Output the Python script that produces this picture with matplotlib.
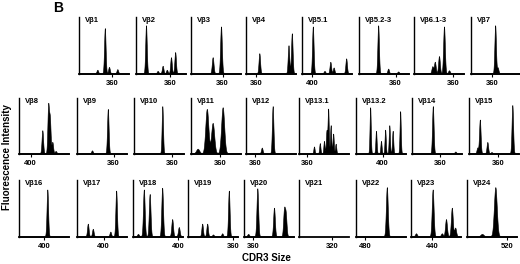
import numpy as np
import matplotlib
matplotlib.use("Agg")
import matplotlib.pyplot as plt

plt.rcParams['font.family'] = ['Liberation Sans', 'DejaVu Sans']
plt.rcParams['font.weight'] = 'bold'

# panel names, x-axis start (CDR3 size), tick value
names = ['Vβ1', 'Vβ2', 'Vβ3', 'Vβ4', 'Vβ5.1', 'Vβ5.2-3', 'Vβ6.1-3', 'Vβ7',
         'Vβ8', 'Vβ9', 'Vβ10', 'Vβ11', 'Vβ12', 'Vβ13.1', 'Vβ13.2', 'Vβ14', 'Vβ15',
         'Vβ16', 'Vβ17', 'Vβ18', 'Vβ19', 'Vβ20', 'Vβ21', 'Vβ22', 'Vβ23', 'Vβ24']
xstart = [320, 319, 322, 348, 388, 316, 313, 335,
          386, 316, 314, 325, 349, 350, 368, 326, 325,
          370, 368, 346, 306, 349, 280, 469, 415, 472]
ticks = [360, 360, 360, 360, 400, 360, 360, 360,
         400, 360, 360, 360, 360, 360, 400, 360, 360,
         400, 400, 400, 360, 360, 320, 480, 440, 520]

# peak positions (CDR3 size) and relative fluorescence heights
peak_pos = [
    [342, 351, 356, 366],
    [331, 345, 351, 356, 361, 366],
    [348, 358],
    [364, 399, 403],
    [401, 415, 422, 426, 441],
    [339, 351, 363],
    [335, 338, 343, 349, 355],
    [364, 367],
    [414, 421, 423, 426, 430],
    [334, 353],
    [348],
    [333, 344, 351, 363],
    [368, 381],
    [368, 375, 380, 383, 385, 388, 391, 394],
    [385, 392, 398, 403, 408, 412, 421],
    [351, 378],
    [335, 338, 347, 352, 377],
    [404],
    [381, 387, 408, 415],
    [352, 359, 366, 381, 393, 401],
    [323, 329, 336, 347, 355],
    [354, 365, 385, 397, 399],
    [],
    [506],
    [421, 441, 452, 457, 464, 468],
    [490, 506],
]
peak_h = [
    [0.06, 0.79, 0.11, 0.07],
    [0.84, 0.04, 0.13, 0.06, 0.28, 0.37],
    [0.28, 0.82],
    [0.35, 0.49, 0.70],
    [0.82, 0.04, 0.20, 0.10, 0.26],
    [0.84, 0.08, 0.03],
    [0.12, 0.20, 0.30, 0.82, 0.05],
    [0.84, 0.10],
    [0.41, 0.84, 0.60, 0.20, 0.04],
    [0.05, 0.79],
    [0.84],
    [0.08, 0.79, 0.54, 0.82],
    [0.10, 0.84],
    [0.12, 0.18, 0.22, 0.40, 0.79, 0.50, 0.35, 0.17],
    [0.82, 0.40, 0.22, 0.42, 0.50, 0.40, 0.75],
    [0.84, 0.03],
    [0.10, 0.60, 0.20, 0.02, 0.86],
    [0.82],
    [0.22, 0.13, 0.08, 0.80],
    [0.04, 0.82, 0.74, 0.85, 0.30, 0.16],
    [0.22, 0.22, 0.03, 0.05, 0.80],
    [0.04, 0.84, 0.50, 0.45, 0.38],
    [],
    [0.86],
    [0.05, 0.82, 0.05, 0.30, 0.50, 0.15],
    [0.04, 0.86],
]
peak_w = [0.9, 0.9, 1.0, 0.9, 0.9, 0.9, 1.0, 0.9,
          0.9, 0.9, 0.8, 1.8, 0.9, 0.7, 0.7, 0.9, 0.9,
          0.9, 0.9, 1.0, 0.9, 1.0, 0.9, 1.1, 1.1, 1.7]

# panel layout in pixels: left edge, axis top, baseline
lefts = [79, 136, 191, 246, 302, 359, 414, 471,
         19, 77, 134, 191, 246, 299, 356, 412, 469,
         19, 77, 133, 188, 244, 299, 356, 411, 467]
rows = [(17, 74)] * 8 + [(98, 154)] * 9 + [(180, 237)] * 9
W, H = 520, 264
pw = 50
span = 60

fig = plt.figure(figsize=(W / 100, H / 100), dpi=100)

for i, name in enumerate(names):
    top, base = rows[i]
    ax = fig.add_axes([lefts[i] / W, 1 - base / H, pw / W, (base - top) / H])
    lo = xstart[i]
    x = np.linspace(lo, lo + span, 800)
    y = np.full_like(x, 0.015)
    for p, h in zip(peak_pos[i], peak_h[i]):
        y += h * np.exp(-0.5 * ((x - p) / peak_w[i]) ** 2)
    if peak_pos[i]:
        ax.fill_between(x, 0, y, color='black', lw=0.4)
    ax.set_xlim(lo, lo + span)
    ax.set_ylim(0, 1)
    for s in ['top', 'right']:
        ax.spines[s].set_visible(False)
    ax.spines['left'].set_linewidth(1.0)
    ax.spines['bottom'].set_linewidth(1.3)
    ax.set_yticks([])
    ax.set_xticks([ticks[i]])
    ax.tick_params(axis='x', length=2, width=0.8, pad=2, labelsize=5.5)
    ax.text(0.12, 1.0, name, transform=ax.transAxes, ha='left', va='top',
            fontsize=5.5, fontweight='bold')

fig.text(58 / W, 1 - 8 / H, 'B', fontsize=10, fontweight='bold', ha='center', va='center')
fig.text(7 / W, 1 - 157 / H, 'Fluorescence Intensity', rotation=90, fontsize=7,
         fontweight='bold', ha='center', va='center')
fig.text(266 / W, 1 - 258 / H, 'CDR3 Size', fontsize=7, fontweight='bold',
         ha='center', va='center')

plt.savefig('out.png', dpi=100)
